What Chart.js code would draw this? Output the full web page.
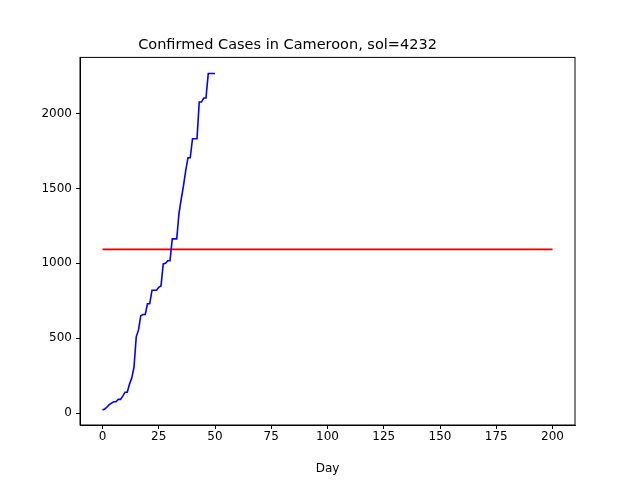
<!DOCTYPE html>
<html><head><meta charset="utf-8">
<script src="https://cdn.jsdelivr.net/npm/chart.js@4"></script>
<style>html,body{margin:0;background:#fff}#c{width:640px;height:480px}</style>
</head><body><div id="c"><canvas id="cv"></canvas></div>
<script>
// confirmed cases by day
const cases = [20, 27, 40, 56, 66, 75, 75, 91, 91, 113, 139, 139, 193, 233, 306, 509, 555, 650, 658, 658,
  730, 730, 820, 820, 820, 840, 849, 996, 1000, 1017, 1017, 1163, 1163, 1163, 1334, 1430, 1518, 1621, 1705, 1705,
  1832, 1832, 1832, 2077, 2077, 2104, 2104, 2267, 2267, 2267, 2267];
const solDays = [0, 200];
const solValue = [1093, 1093];
const xTicks = [0, 25, 50, 75, 100, 125, 150, 175, 200];
const yTicks = [0, 500, 1000, 1500, 2000];

Chart.defaults.font.family = "'DejaVu Sans', sans-serif";
Chart.defaults.font.size = 12;
Chart.defaults.color = '#000';

const axisGrid = { display: true, drawOnChartArea: false, drawTicks: true, tickLength: 4, tickColor: '#000' };

new Chart(document.getElementById('cv'), {
  type: 'line',
  data: { datasets: [
    { data: cases.map((v, i) => ({ x: i, y: v })), borderColor: '#0000ff', borderWidth: 1.6, pointRadius: 0, tension: 0 },
    { data: solDays.map((d, i) => ({ x: d, y: solValue[i] })), borderColor: '#e00000', borderWidth: 1.6, pointRadius: 0 },
  ] },
  options: {
    responsive: true, maintainAspectRatio: false, animation: false,
    layout: { padding: { left: 0, right: 65, top: 0, bottom: 0 } },
    plugins: {
      legend: { display: false },
      title: { display: true, text: 'Confirmed Cases in Cameroon, sol=4232', font: { size: 14.5, weight: 'normal' }, color: '#000', padding: { top: 37, bottom: 3 } },
      tooltip: { enabled: false },
    },
    scales: {
      x: {
        type: 'linear', min: -10, max: 210,
        title: { display: true, text: 'Day', padding: { top: 0 } },
        grid: axisGrid,
        border: { color: '#000' },
        ticks: { padding: 1, callback: (v) => v },
        afterBuildTicks: (s) => { s.ticks = xTicks.map((v) => ({ value: v })); },
        afterFit: (s) => { s.height = 55; },
      },
      y: {
        min: -80, max: 2375,
        grid: axisGrid,
        border: { color: '#000' },
        ticks: { padding: 4, callback: (v) => v },
        afterBuildTicks: (s) => { s.ticks = yTicks.map((v) => ({ value: v })); },
        afterFit: (s) => { s.width = 80; },
      },
    },
  },
  plugins: [{ id: 'box', afterDraw(c) { const a = c.chartArea, x = c.ctx; x.save(); x.strokeStyle = '#000'; x.lineWidth = 1; x.strokeRect(a.left, a.top, a.right - a.left, a.bottom - a.top); x.restore(); } }],
});
</script></body></html>
